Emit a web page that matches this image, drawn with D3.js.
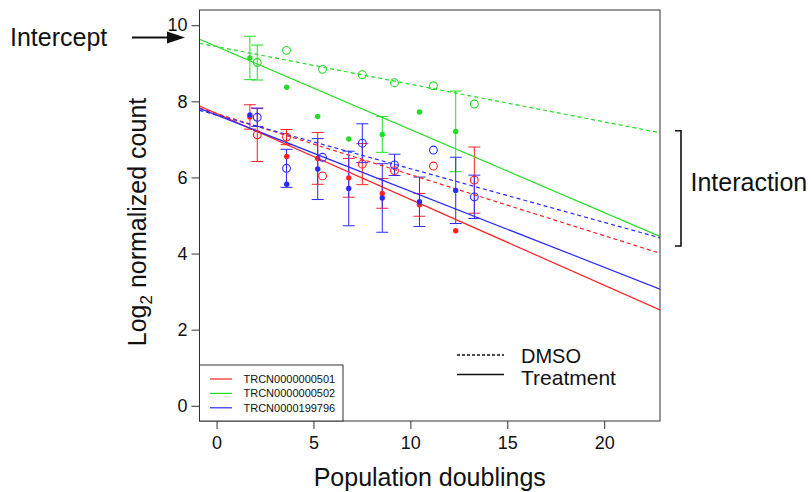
<!DOCTYPE html>
<html><head><meta charset="utf-8">
<script src="https://cdn.jsdelivr.net/npm/d3@7"></script>
<style>
body{margin:0;background:#fff}
svg{display:block}
text{font-family:"Liberation Sans",Arial,Helvetica,sans-serif;fill:#111}
</style>
</head><body>
<svg id="chart" width="812" height="492"></svg>
<script>
// ---------- data ----------
const shrnaIds = ["TRCN0000000501", "TRCN0000000502", "TRCN0000199796"];
const seriesColors = ["#ff2020", "#22dd22", "#2a2aff"];

const doublingsTreatment = [1.72, 3.62, 5.22, 6.82, 8.55, 10.47, 12.34];
const doublingsDMSO      = [2.10, 3.61, 5.47, 7.52, 9.18, 11.19, 13.30];

// TRCN0000000501 (red)
const meanTreat501 = [7.59, 6.55, 6.50, 5.99, 5.58, 5.28, 4.60];
const sdTreat501   = [0.32, 0, 0.68, 0.51, 0.39, 0.30, 0];
const meanDMSO501  = [7.12, 7.06, 6.04, 6.35, 6.18, 6.30, 5.93];
const sdDMSO501    = [0.70, 0.20, 0, 0.54, 0, 0, 0.87];
// TRCN0000000502 (green)
const meanTreat502 = [9.14, 8.37, 7.60, 7.01, 7.13, 7.72, 7.21];
const sdTreat502   = [0.57, 0, 0, 0, 0.47, 0, 1.06];
const meanDMSO502  = [9.02, 9.34, 8.84, 8.70, 8.49, 8.41, 7.93];
const sdDMSO502    = [0.46, 0, 0, 0, 0, 0, 0];
// TRCN0000199796 (blue)
const meanTreat796 = [7.64, 5.82, 6.22, 5.71, 5.46, 5.36, 5.66];
const sdTreat796   = [0, 0.05, 0.80, 0.98, 0.90, 0.65, 0.87];
const meanDMSO796  = [7.58, 6.24, 6.53, 6.90, 6.33, 6.72, 5.49];
const sdDMSO796    = [0.24, 0.50, 0, 0.51, 0.28, 0, 0.57];

// fitted model lines (per shRNA)
const fitIntercepts      = [7.68, 9.44, 7.64];
const fitSlopesDMSO      = [-0.1605, -0.099, -0.141];
const fitSlopesTreatment = [-0.2256, -0.218, -0.200];

const xTicks = [0, 5, 10, 15, 20];
const yTicks = [0, 2, 4, 6, 8, 10];

// ---------- layout ----------
const svg = d3.select("#chart");
const L = 199.5, R = 660, T = 10, B = 421;
const x = d3.scaleLinear().domain([-0.88, 22.88]).range([L, R]);
const y = d3.scaleLinear().domain([-0.4, 10.4]).range([B, T]);

svg.append("defs").append("clipPath").attr("id", "plotclip")
  .append("rect").attr("x", L).attr("y", T).attr("width", R - L).attr("height", B - T);

const series = [
  {c: 0, xs: doublingsTreatment, m: meanTreat501, s: sdTreat501, filled: true},
  {c: 0, xs: doublingsDMSO, m: meanDMSO501, s: sdDMSO501, filled: false},
  {c: 1, xs: doublingsTreatment, m: meanTreat502, s: sdTreat502, filled: true},
  {c: 1, xs: doublingsDMSO, m: meanDMSO502, s: sdDMSO502, filled: false},
  {c: 2, xs: doublingsTreatment, m: meanTreat796, s: sdTreat796, filled: true},
  {c: 2, xs: doublingsDMSO, m: meanDMSO796, s: sdDMSO796, filled: false}
];

const plot = svg.append("g").attr("clip-path", "url(#plotclip)");

// error bars (mean ± sd)
series.forEach(se => {
  const g = plot.append("g").attr("stroke", seriesColors[se.c]).attr("stroke-width", 1).attr("fill", "none");
  se.m.forEach((m, i) => {
    if (!(se.s[i] > 0.06)) return;
    const px = x(se.xs[i]), y1 = y(m - se.s[i]), y2 = y(m + se.s[i]);
    g.append("line").attr("x1", px).attr("x2", px).attr("y1", y1).attr("y2", y2);
    g.append("line").attr("x1", px - 6).attr("x2", px + 6).attr("y1", y1).attr("y2", y1);
    g.append("line").attr("x1", px - 6).attr("x2", px + 6).attr("y1", y2).attr("y2", y2);
  });
});

// fitted lines
const xd = x.domain();
shrnaIds.forEach((id, k) => {
  [[fitSlopesDMSO[k], "4,3"], [fitSlopesTreatment[k], null]].forEach(([b, dash]) => {
    const ln = plot.append("line")
      .attr("x1", x(xd[0])).attr("y1", y(fitIntercepts[k] + b * xd[0]))
      .attr("x2", x(xd[1])).attr("y2", y(fitIntercepts[k] + b * xd[1]))
      .attr("stroke", seriesColors[k]).attr("stroke-width", 1.2);
    if (dash) ln.attr("stroke-dasharray", dash);
  });
});

// points
series.forEach(se => {
  plot.append("g").selectAll("circle").data(se.m).join("circle")
    .attr("cx", (d, i) => x(se.xs[i])).attr("cy", d => y(d))
    .attr("r", se.filled ? 2.7 : 3.9)
    .attr("fill", se.filled ? seriesColors[se.c] : "none")
    .attr("stroke", se.filled ? "none" : seriesColors[se.c])
    .attr("stroke-width", 1.1);
});

// box
svg.append("rect").attr("x", L).attr("y", T).attr("width", R - L).attr("height", B - T)
  .attr("fill", "none").attr("stroke", "#333").attr("stroke-width", 1);

// axes
const xAxis = svg.append("g").attr("transform", `translate(0,${B})`)
  .call(d3.axisBottom(x).tickValues(xTicks).tickSize(8).tickPadding(7.5).tickFormat(d3.format("d")));
const yAxis = svg.append("g").attr("transform", `translate(${L},0)`)
  .call(d3.axisLeft(y).tickValues(yTicks).tickSize(8).tickPadding(4).tickFormat(d3.format("d")));
[xAxis, yAxis].forEach(a => {
  a.select(".domain").remove();
  a.selectAll(".tick line").attr("stroke", "#333");
  a.selectAll(".tick text").attr("font-size", 18).attr("fill", "#111")
    .style("font-family", '"Liberation Sans",Arial,sans-serif');
});

// axis titles
svg.append("text").attr("x", (L + R) / 2).attr("y", 486).attr("text-anchor", "middle")
  .attr("font-size", 25).text("Population doublings");
const yl = svg.append("text").attr("transform", "translate(146,222) rotate(-90)")
  .attr("text-anchor", "middle").attr("font-size", 25);
yl.append("tspan").text("Log");
yl.append("tspan").attr("font-size", 17).attr("dy", 6).text("2");
yl.append("tspan").attr("dy", -6).text(" normalized count");

// shRNA legend
const lg = svg.append("g");
lg.append("rect").attr("x", L).attr("y", 365).attr("width", 343 - L).attr("height", B - 365)
  .attr("fill", "#fff").attr("stroke", "#333").attr("stroke-width", 1);
shrnaIds.forEach((id, k) => {
  const yy = 379 + k * 14.4;
  lg.append("line").attr("x1", 210).attr("x2", 232).attr("y1", yy).attr("y2", yy)
    .attr("stroke", seriesColors[k]).attr("stroke-width", 1.2);
  lg.append("text").attr("x", 243.5).attr("y", yy + 4).attr("font-size", 11).text(id);
});

// condition legend
const cl = svg.append("g");
cl.append("line").attr("x1", 457).attr("x2", 504).attr("y1", 355).attr("y2", 355)
  .attr("stroke", "#111").attr("stroke-width", 1.4).attr("stroke-dasharray", "3,2");
cl.append("line").attr("x1", 457).attr("x2", 504).attr("y1", 374.5).attr("y2", 374.5)
  .attr("stroke", "#111").attr("stroke-width", 1.4);
cl.append("text").attr("x", 521).attr("y", 363).attr("font-size", 20).text("DMSO");
cl.append("text").attr("x", 521).attr("y", 384.5).attr("font-size", 21).text("Treatment");

// annotations
svg.append("text").attr("x", 10).attr("y", 45.5).attr("font-size", 25).text("Intercept");
svg.append("line").attr("x1", 132).attr("x2", 170).attr("y1", 37.5).attr("y2", 37.5)
  .attr("stroke", "#111").attr("stroke-width", 2);
svg.append("path").attr("d", "M185,37.5 L167,31.5 L167,43.5 Z").attr("fill", "#111");

svg.append("path").attr("d", "M675,130.7 H681 V246 H675")
  .attr("fill", "none").attr("stroke", "#111").attr("stroke-width", 1.6);
svg.append("text").attr("x", 690.5).attr("y", 191).attr("font-size", 25).text("Interaction");
</script>
</body></html>
